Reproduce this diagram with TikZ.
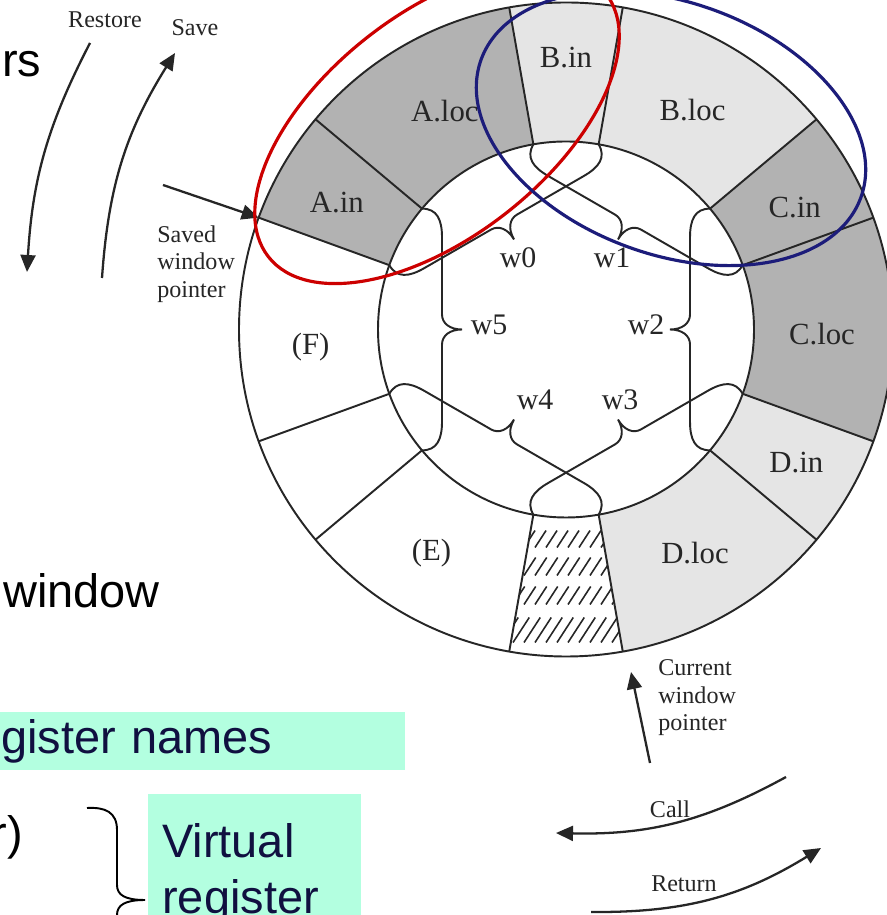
\documentclass[tikz,border=0pt]{standalone}
\usepackage{fontspec}
\setmainfont{Liberation Serif}
\newfontfamily\slidefont{Liberation Sans}
\usepackage{tikz}
\usetikzlibrary{arrows.meta}

\definecolor{markred}{RGB}{204,0,0}
\definecolor{marknavy}{RGB}{28,28,122}
\definecolor{hilite}{RGB}{179,255,224}
\definecolor{navytext}{RGB}{16,16,64}

\begin{document}
\begin{tikzpicture}[
        x=0.02cm, y=0.02cm,
        dark/.style={fill=gray!60},
        light/.style={fill=gray!20},
        ringline/.style={draw=black!85, line width=1.1pt},
        hatch/.style={draw=black!85, line width=0.9pt},
        cellname/.style={
            inner sep=0pt,
            text=black!85,
            font=\fontsize{17.5}{20}\selectfont
        },
        wname/.style={
            inner sep=0pt,
            text=black!85,
            font=\fontsize{17}{20}\selectfont
        },
        note/.style={
            inner sep=0pt,
            align=left,
            text=black!85,
            font=\fontsize{13.7}{15.8}\selectfont
        },
        slide/.style={
            inner sep=0pt,
            font=\slidefont\fontsize{26.7}{32}\selectfont
        },
        hibox/.style={
            fill=hilite,
            text=navytext,
            align=left,
            font=\slidefont\fontsize{26.7}{31.9}\selectfont
        },
        wline/.style={draw=black!85, line width=1.1pt},
        arrow/.style={-{Triangle[length=0.34cm, width=0.3cm]}, line width=1.3pt, draw=black!85},
        marker/.style={line width=1.8pt}
    ]

    \path[use as bounding box, fill=white] (0,0) rectangle (886,915);

    \coordinate (c) at (566,585.5);

    % register ring
    \begin{scope}[shift={(c)}]
        \foreach \a/\b/\f in {140/160/dark, 100/140/dark, 20/40/dark, -20/20/dark,
                              80/100/light, 40/80/light, -40/-20/light, -80/-40/light}
            \fill[\f] (\a:188) arc[start angle=\a, end angle=\b, radius=188]
                -- (\b:327) arc[start angle=\b, end angle=\a, radius=327] -- cycle;

        % hatched slot
        \begin{scope}
            \clip (-100:188) arc[start angle=-100, end angle=-80, radius=188]
                -- (-80:327) arc[start angle=-80, end angle=-100, radius=327] -- cycle;
            \foreach \yb/\h in {-218/17, -246/18, -275/18, -313/25}
                \foreach \x in {-75,-64,...,65}
                    \draw[hatch] (\x,\yb) -- ++(0.65*\h,\h);
        \end{scope}

        \draw[ringline] (0,0) circle[radius=327];
        \draw[ringline] (0,0) circle[radius=188];
        \foreach \a in {100,80,40,20,-20,-40,-80,-100,-140,-160,160,140}
            \draw[ringline] (\a:188) -- (\a:327);

        \node[cellname] (ain)  at (151:262) {A.in};
        \node[cellname] (aloc) at (119:250) {A.loc};
        \node[cellname] (bin)  at (90:272)  {B.in};
        \node[cellname] (bloc) at (60:253)  {B.loc};
        \node[cellname] (cin)  at (28:259)  {C.in};
        \node[cellname] (cloc) at (-1:256)  {C.loc};
        \node[cellname] (din)  at (-30:266) {D.in};
        \node[cellname] (dloc) at (-60:258) {D.loc};
        \node[cellname] (e)    at (-121:261) {(E)};
        \node[cellname] (f)    at (184:256) {(F)};

        % windows
        \foreach \m in {120,60,0,-60,-120,180}
            \draw[wline, rotate=\m] (144,-120.85) .. controls (129,-120.85) and (124,-110) .. (124,-92)
                -- (124,-15) .. controls (124,-6) and (116,0) .. (104,0)
                .. controls (116,0) and (124,6) .. (124,15)
                -- (124,92) .. controls (124,110) and (129,120.85) .. (144,120.85);

        \coordinate (savedptr) at (160:327);
    \end{scope}

    \node[wname] (w0) at (518,657) {w0};
    \node[wname] (w1) at (612,657) {w1};
    \node[wname] (w2) at (646,590) {w2};
    \node[wname] (w3) at (620,515) {w3};
    \node[wname] (w4) at (535,515) {w4};
    \node[wname] (w5) at (489,590) {w5};

    % pointers and movement
    \node[note, anchor=base] (restore) at (105,887) {Restore};
    \node[note, anchor=base] (save) at (195,879) {Save};
    \node[note, anchor=north west] (saved) at (157,690) {Saved\\window\\pointer};
    \node[note, anchor=north west] (current) at (658,256) {Current\\window\\pointer};
    \node[note, anchor=base] (call) at (670,97) {Call};
    \node[note, anchor=base] (return) at (684,23) {Return};

    \coordinate (restoreA) at (90,872);
    \coordinate (restoreB) at (27,643);
    \coordinate (saveA) at (102,637);
    \coordinate (saveB) at (175,862);
    \coordinate (savedA) at (163,730);
    \coordinate (currentA) at (650,152);
    \coordinate (currentB) at (631,243);
    \coordinate (callA) at (786,138);
    \coordinate (callB) at (556,82);
    \coordinate (returnA) at (591,3);
    \coordinate (returnB) at (821,67);

    \draw[arrow] (restoreA) to[bend right=12] (restoreB);
    \draw[arrow] (saveA) to[bend left=14] (saveB);
    \draw[arrow] (savedA) -- (savedptr);
    \draw[arrow] (currentA) -- (currentB);
    \draw[arrow] (callA) to[bend left=15] (callB);
    \draw[arrow] (returnA) to[bend right=16] (returnB);

    % slide text
    \node[slide, anchor=base west] (rs) at (2,838) {rs};
    \node[slide, anchor=base west] (win) at (3,307) {window};
    \node[hibox, anchor=north west, text width=7.66cm, inner xsep=0.42cm, inner ysep=0.14cm] (names) at (-20,203) {gister names};
    \node[slide, anchor=base east] (rparen) at (23,65) {r)};
    \draw[line width=1.1pt] (87,107) .. controls (105,108) and (117,103) .. (117,85)
        -- (117,30) .. controls (117,20) and (125,15) .. (145,15)
        .. controls (125,15) and (117,10) .. (117,0) -- (117,-80);
    \node[hibox, anchor=north west, text width=3.7cm, inner xsep=0.28cm, inner ysep=0.58cm] (virtual) at (148,121) {Virtual\\register};

    % highlighted windows
    \draw[marker, draw=markred] (437,790) ellipse[x radius=214, y radius=112, rotate=38];
    \draw[marker, draw=marknavy] (671,786.5) ellipse[x radius=202, y radius=126, rotate=-20];

\end{tikzpicture}
\end{document}
